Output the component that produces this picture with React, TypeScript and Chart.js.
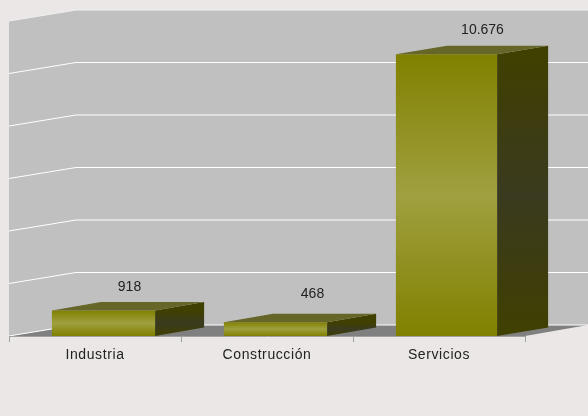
import React, { useEffect, useRef } from "react";
import { Chart, registerables } from "chart.js";

Chart.register(...registerables);

const categories = ["Industria", "Construcción", "Servicios"];
const values = [918, 468, 10676];
const valueLabels = ["918", "468", "10.676"];
const labelShift = [26, 37, 35];
const labelRise = [23.5, 28.5, 24.5];
const barInset = [0, 0, 2];

const BG = "#ECE7E7";
const DX = 67;
const DY = 11;
const BAR_DX = 49;
const BAR_DY = 8.5;
const BAR_SHIFT = 8.5;
const BAR_LIFT = 1.5;
const FONT = "'Liberation Sans', Arial, sans-serif";

const poly = (ctx: CanvasRenderingContext2D, pts: number[][], fill: any) => {
  ctx.beginPath();
  pts.forEach((p, i) => (i ? ctx.lineTo(p[0], p[1]) : ctx.moveTo(p[0], p[1])));
  ctx.closePath();
  ctx.fillStyle = fill;
  ctx.fill();
};

const box3d = {
  id: "box3d",
  beforeDraw(chart: any) {
    const { ctx, scales, width } = chart;
    const { left, right } = chart.chartArea;
    const y = scales.y;
    const top = y.getPixelForValue(y.max);
    const base = y.getPixelForValue(0);
    ctx.save();
    poly(ctx, [[left, top], [left + DX, top - DY], [width, top - DY], [width, base - DY], [left + DX, base - DY], [left, base]], "#C0C0C0");
    poly(ctx, [[left, base], [left + DX, base - DY], [width, base - DY], [right, base]], "#808080");
    ctx.lineWidth = 1;
    y.ticks.forEach((t: any) => {
      const py = y.getPixelForValue(t.value);
      ctx.strokeStyle = t.value === y.max ? "#EFEFEF" : "#FFFFFF";
      ctx.beginPath();
      ctx.moveTo(left, py);
      ctx.lineTo(left + DX, py - DY);
      ctx.lineTo(width, py - DY);
      ctx.stroke();
    });
    ctx.restore();
    (ctx as any).letterSpacing = "0.6px";
  },
  afterDatasetsUpdate(chart: any) {
    chart.getDatasetMeta(0).data.forEach((el: any, i: number) => {
      el.x += BAR_SHIFT - barInset[i] / 2;
      el.width -= barInset[i];
      el.y -= BAR_LIFT;
    });
  },
  afterDatasetsDraw(chart: any) {
    const { ctx } = chart;
    ctx.save();
    (ctx as any).letterSpacing = "0px";
    chart.getDatasetMeta(0).data.forEach((el: any, i: number) => {
      const l = el.x - el.width / 2;
      const r = el.x + el.width / 2;
      const dx = BAR_DX + barInset[i];
      const t = el.y;
      const b = el.base;
      const side = ctx.createLinearGradient(0, t, 0, b);
      side.addColorStop(0, "#404000");
      side.addColorStop(0.5, "#3A3A20");
      side.addColorStop(1, "#404000");
      poly(ctx, [[r, t], [r + dx, t - BAR_DY], [r + dx, b - BAR_DY], [r, b]], side);
      poly(ctx, [[l, t], [l + dx, t - BAR_DY], [r + dx, t - BAR_DY], [r, t]], "#666628");
      ctx.fillStyle = "#222222";
      ctx.font = `14px ${FONT}`;
      ctx.textAlign = "center";
      ctx.textBaseline = "middle";
      ctx.fillText(valueLabels[i], el.x + labelShift[i] + barInset[i] / 2, t - labelRise[i]);
    });
    ctx.restore();
  },
};

export default function App() {
  const ref = useRef<HTMLCanvasElement>(null);
  useEffect(() => {
    const chart = new Chart(ref.current!, {
      type: "bar",
      data: {
        labels: categories,
        datasets: [
          {
            data: values,
            barPercentage: 0.6,
            categoryPercentage: 1,
            backgroundColor: (c: any) => {
              const ch = c.chart;
              if (!ch.chartArea || c.raw === undefined) return "#808000";
              const t = ch.scales.y.getPixelForValue(c.raw) - BAR_LIFT;
              const b = ch.scales.y.getPixelForValue(0);
              const g = ch.ctx.createLinearGradient(0, t, 0, b);
              g.addColorStop(0, "#808000");
              g.addColorStop(0.5, "#A0A040");
              g.addColorStop(1, "#808000");
              return g;
            },
          },
        ],
      },
      options: {
        animation: false,
        responsive: false,
        devicePixelRatio: 1,
        layout: { padding: { left: 9, right: 63, top: 21, bottom: 0 } },
        plugins: { legend: { display: false }, tooltip: { enabled: false } },
        scales: {
          y: { display: false, min: 0, max: 12000, ticks: { stepSize: 2000 } },
          x: {
            afterFit: (s: any) => {
              s.height = 80;
            },
            border: { color: "#A0A0A0" },
            grid: { drawOnChartArea: false, color: "#A0A0A0", tickLength: 6 },
            ticks: {
              color: "#222222",
              font: { family: FONT, size: 14 },
              padding: 5,
              maxRotation: 0,
            },
          },
        },
      },
      plugins: [box3d],
    });
    return () => chart.destroy();
  }, []);
  return (
    <div style={{ position: "fixed", inset: 0, background: BG }}>
      <canvas ref={ref} width={588} height={416} style={{ display: "block" }} />
    </div>
  );
}
